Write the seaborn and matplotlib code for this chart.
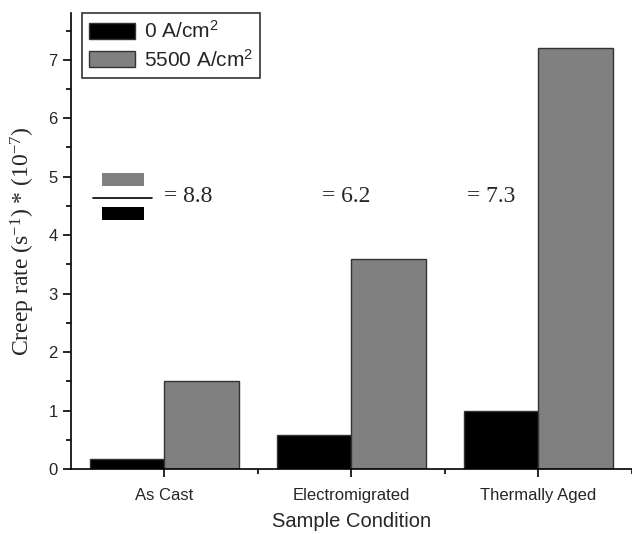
import matplotlib
matplotlib.use("Agg")
import matplotlib.pyplot as plt
from matplotlib.patches import Rectangle
from matplotlib.ticker import MultipleLocator, FixedLocator
import seaborn as sns
import pandas as pd

# ---- data ----
conditions = ["As Cast", "Electromigrated", "Thermally Aged"]
series_names = ["0 A/cm$^2$", "5500 A/cm$^2$"]
rate_0 = [0.17, 0.58, 0.99]
rate_5500 = [1.5, 3.6, 7.2]
ratio_text_x = [0.0, 0.84, 1.62]

sns.set_theme(style="white")
plt.rcParams["font.family"] = ["Liberation Sans", "DejaVu Sans"]
plt.rcParams["mathtext.default"] = "regular"

df = pd.DataFrame({
    "Sample Condition": conditions * 2,
    "rate": rate_0 + rate_5500,
    "series": [series_names[0]] * 3 + [series_names[1]] * 3,
})

fig = plt.figure(figsize=(6.32, 5.34), dpi=100)
ax = fig.add_axes([0.1123, 0.1217, 0.8877, 0.854])

sns.barplot(data=df, x="Sample Condition", y="rate", hue="series",
            hue_order=series_names, order=conditions,
            palette=["#000000", "#808080"], edgecolor="#333333",
            linewidth=1.0, width=0.8, ax=ax, saturation=1)

ax.set_xlim(-0.5, 2.5)
ax.set_ylim(0, 7.8)
for s in ["top", "right"]:
    ax.spines[s].set_visible(False)
for s in ["left", "bottom"]:
    ax.spines[s].set_color("black")
    ax.spines[s].set_linewidth(1.2)

ax.yaxis.set_major_locator(MultipleLocator(1))
ax.yaxis.set_minor_locator(MultipleLocator(0.5))
ax.xaxis.set_minor_locator(FixedLocator([0.5, 1.5, 2.5]))
ax.tick_params(axis="both", which="major", direction="out", length=6, width=1.2,
               color="black", labelsize=12, left=True, bottom=True)
ax.tick_params(axis="both", which="minor", direction="out", length=3.5, width=1.2,
               color="black", left=True, bottom=True)
ax.tick_params(axis="x", which="major", pad=8)

ax.set_xlabel("Sample Condition", fontsize=14.5, labelpad=6)
ax.set_ylabel("Creep rate (s$^{-1}$) * (10$^{-7}$)", fontsize=17,
              family=["Liberation Serif", "DejaVu Serif"], labelpad=8)

# legend
handles, labels = ax.get_legend_handles_labels()
leg = ax.legend(handles, labels, loc="upper left", bbox_to_anchor=(0.02, 1.0),
                fontsize=15, frameon=True, fancybox=False, edgecolor="black",
                handlelength=2.2, handleheight=0.8, borderpad=0.35,
                labelspacing=0.3, handletextpad=0.4, borderaxespad=0.0)
leg.get_frame().set_linewidth(1.2)

# ratio annotation
ax.add_patch(Rectangle((-0.334, 4.84), 0.225, 0.23, facecolor="#808080",
                       edgecolor="#808080", lw=0))
ax.add_patch(Rectangle((-0.334, 4.26), 0.225, 0.22, facecolor="#000000",
                       edgecolor="#000000", lw=0))
ax.plot([-0.382, -0.067], [4.64, 4.64], color="black", lw=1.2)
for x0, a, b in zip(ratio_text_x, rate_0, rate_5500):
    ax.text(x0, 4.66, f"= {b / a:.1f}", ha="left", va="center", fontsize=17,
            family=["Liberation Serif", "DejaVu Serif"])

fig.savefig("out.png", dpi=100)
